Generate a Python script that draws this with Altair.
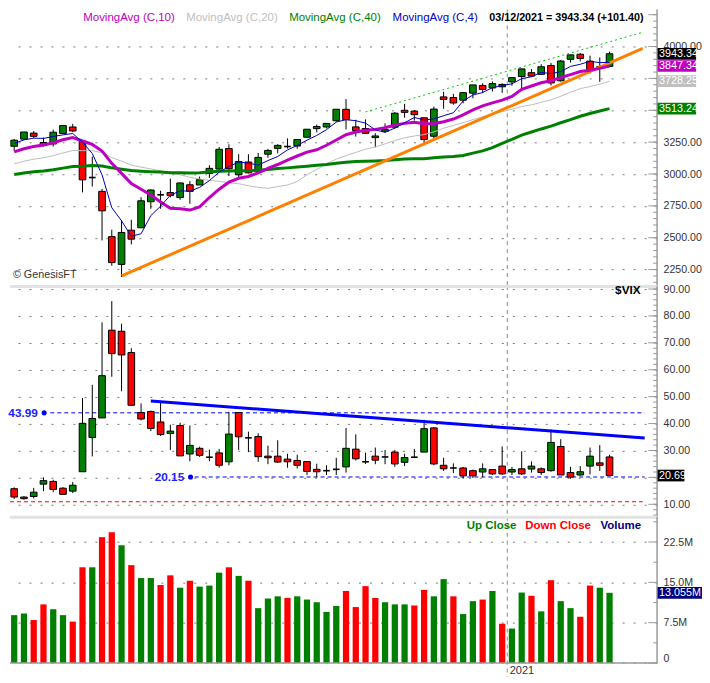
import altair as alt
import pandas as pd
import numpy as np

# ---------------- data (weekly, 01/10/2020 .. 03/12/2021) ----------------
spx_open = [3217.6, 3273.4, 3321.0, 3247.2, 3235.7, 3318.3, 3369.0, 3257.6, 2974.3, 2863.9,
            2508.6, 2290.7, 2559.0, 2578.3, 2782.5, 2845.6, 2854.7, 2815.0, 2915.5, 2913.9,
            3004.1, 3038.8, 3199.9, 2993.8, 3094.4, 3018.6, 3155.3, 3201.0, 3224.3, 3219.8,
            3288.3, 3356.0, 3368.7, 3418.1, 3507.4, 3369.8, 3356.7, 3285.6, 3335.5, 3367.3,
            3500.0, 3493.5, 3441.4, 3296.2, 3605.0, 3600.2, 3579.3, 3634.2, 3694.7, 3675.3,
            3684.3, 3723.0, 3764.6, 3795.0, 3781.9, 3851.7, 3731.2, 3899.6, 3939.6, 3885.6,
            3842.5, 3844.4]
spx_high = [3275.0, 3329.9, 3337.8, 3285.9, 3348.0, 3385.1, 3393.5, 3259.8, 3136.7, 2882.6,
            2563.0, 2637.0, 2641.4, 2818.6, 2879.2, 2869.0, 2964.2, 2934.3, 2944.3, 2980.3,
            3068.7, 3211.7, 3233.1, 3155.5, 3154.9, 3165.8, 3197.5, 3233.5, 3279.3, 3272.0,
            3352.5, 3387.9, 3399.5, 3509.4, 3588.1, 3425.6, 3428.9, 3320.3, 3397.2, 3486.3,
            3549.9, 3502.4, 3441.4, 3529.1, 3646.0, 3628.5, 3644.3, 3699.2, 3712.4, 3726.7,
            3711.2, 3760.2, 3826.7, 3823.6, 3861.5, 3870.9, 3894.6, 3937.6, 3950.4, 3928.7,
            3914.5, 3960.3]
spx_low = [3181.5, 3270.5, 3281.5, 3214.6, 3214.6, 3317.8, 3328.5, 2855.8, 2901.5, 2478.9,
           2280.5, 2191.9, 2447.5, 2575.0, 2727.1, 2727.1, 2816.8, 2797.9, 2766.6, 2913.9,
           2969.8, 3025.2, 2984.5, 2965.7, 3004.6, 2999.7, 3127.7, 3162.8, 3200.1, 3198.6,
           3284.5, 3327.2, 3357.5, 3410.4, 3349.6, 3293.6, 3313.9, 3209.5, 3323.7, 3354.3,
           3441.4, 3419.9, 3233.9, 3279.7, 3511.9, 3543.8, 3555.1, 3594.4, 3633.4, 3647.5,
           3636.5, 3692.4, 3662.7, 3764.7, 3781.9, 3694.1, 3725.6, 3874.2, 3884.1, 3789.5,
           3723.3, 3839.1]
spx_close = [3265.4, 3329.6, 3295.5, 3225.5, 3327.7, 3380.2, 3337.8, 2954.2, 2972.4, 2711.0,
             2304.9, 2541.5, 2488.7, 2789.8, 2874.6, 2836.7, 2830.7, 2929.8, 2863.7, 2955.5,
             3044.3, 3193.9, 3041.3, 3097.7, 3009.1, 3130.0, 3185.0, 3224.7, 3215.6, 3271.1,
             3351.3, 3372.9, 3397.2, 3508.0, 3427.0, 3341.0, 3319.5, 3298.5, 3348.4, 3477.1,
             3483.8, 3465.4, 3270.0, 3509.4, 3585.2, 3557.5, 3638.4, 3699.1, 3663.5, 3709.4,
             3703.1, 3756.1, 3824.7, 3768.3, 3841.5, 3714.2, 3886.8, 3934.8, 3906.7, 3811.2,
             3841.9, 3943.3]
ma4 = [3240.4, 3267.5, 3281.3, 3279.0, 3294.6, 3307.2, 3317.8, 3250.0, 3161.1, 2993.8,
       2735.6, 2632.4, 2511.5, 2531.2, 2673.6, 2747.4, 2833.0, 2868.0, 2865.2, 2894.9,
       2948.3, 3014.3, 3058.8, 3094.3, 3085.5, 3069.5, 3105.5, 3137.2, 3188.9, 3224.1,
       3265.7, 3302.7, 3348.1, 3407.3, 3426.2, 3418.3, 3398.9, 3346.5, 3326.8, 3360.9,
       3402.0, 3443.7, 3424.1, 3432.2, 3457.5, 3480.5, 3572.6, 3620.0, 3639.6, 3677.6,
       3693.8, 3708.0, 3748.3, 3763.0, 3797.6, 3787.2, 3802.7, 3844.3, 3860.7, 3884.9,
       3873.7, 3875.8]
ma10 = [3174.1, 3197.8, 3215.3, 3226.8, 3245.4, 3268.9, 3285.8, 3259.1, 3232.3, 3179.9,
        3083.9, 3005.1, 2924.4, 2880.8, 2835.5, 2781.2, 2730.4, 2728.0, 2717.1, 2741.6,
        2815.5, 2880.8, 2936.0, 2966.8, 2980.3, 3009.6, 3045.0, 3074.5, 3109.7, 3141.3,
        3172.0, 3189.9, 3225.5, 3266.5, 3308.3, 3329.4, 3342.8, 3350.2, 3363.5, 3384.1,
        3397.3, 3406.6, 3393.9, 3394.0, 3409.8, 3431.5, 3463.4, 3503.4, 3534.9, 3558.2,
        3580.1, 3609.2, 3664.6, 3690.5, 3716.1, 3731.8, 3756.7, 3780.2, 3804.6, 3814.7,
        3828.6, 3847.34]
ma20 = [3080.3, 3100.5, 3116.3, 3127.2, 3144.0, 3164.9, 3184.2, 3183.4, 3182.7, 3167.1,
        3129.0, 3101.4, 3069.8, 3053.8, 3040.5, 3025.0, 3008.1, 2993.5, 2974.7, 2960.8,
        2949.7, 2942.9, 2930.2, 2923.8, 2907.9, 2895.4, 2887.7, 2901.3, 2913.4, 2941.4,
        2993.8, 3035.3, 3080.7, 3116.7, 3144.3, 3169.5, 3193.9, 3212.4, 3236.6, 3262.7,
        3284.7, 3298.2, 3309.7, 3330.2, 3359.1, 3380.4, 3403.1, 3426.8, 3449.2, 3471.1,
        3488.7, 3507.9, 3529.2, 3542.3, 3563.0, 3581.6, 3610.0, 3641.8, 3669.7, 3686.4,
        3704.4, 3728.25]
ma40 = [2996.8, 3007.3, 3017.1, 3024.2, 3033.8, 3046.2, 3058.2, 3061.4, 3066.9, 3062.8,
        3048.3, 3038.1, 3026.7, 3021.7, 3018.3, 3014.8, 3009.9, 3009.8, 3008.4, 3010.1,
        3015.0, 3021.7, 3023.3, 3025.6, 3026.0, 3030.2, 3036.0, 3042.4, 3048.1, 3054.3,
        3061.4, 3068.4, 3075.3, 3085.2, 3092.4, 3097.3, 3101.0, 3102.9, 3105.7, 3111.7,
        3117.2, 3120.6, 3119.9, 3127.0, 3133.5, 3137.9, 3145.4, 3164.0, 3181.3, 3206.3,
        3241.2, 3271.6, 3305.0, 3329.5, 3353.6, 3375.6, 3402.0, 3427.1, 3453.2, 3474.6,
        3494.5, 3513.24]

vix_open = [15.8, 12.7, 12.9, 17.5, 18.5, 16.0, 14.9, 22.1, 34.8, 42.1,
            74.7, 74.3, 66.4, 44.1, 44.5, 40.6, 36.3, 39.3, 28.7, 30.8,
            27.8, 29.1, 25.8, 44.1, 35.0, 35.2, 27.9, 27.9, 26.8, 26.3,
            25.9, 23.0, 22.6, 23.2, 23.9, 30.5, 25.9, 27.9, 27.5, 29.4,
            25.6, 27.2, 29.4, 38.4, 24.5, 23.6, 23.5, 22.5, 22.0, 22.9,
            24.2, 22.0, 23.2, 23.1, 23.2, 22.5, 31.5, 21.8, 20.9, 24.2,
            25.4, 27.6]
vix_high = [16.3, 13.0, 16.1, 20.0, 19.1, 16.4, 18.3, 49.5, 54.4, 77.6,
            85.5, 77.1, 68.0, 47.5, 44.8, 48.0, 39.6, 40.3, 39.3, 31.4,
            30.3, 30.6, 44.4, 44.1, 37.0, 36.4, 31.8, 33.8, 28.8, 28.4,
            25.9, 25.1, 24.5, 27.3, 38.4, 36.0, 29.2, 31.1, 30.2, 30.2,
            28.8, 30.6, 41.4, 38.7, 27.3, 25.2, 23.9, 22.9, 25.2, 22.9,
            31.5, 23.9, 29.7, 25.9, 23.7, 37.8, 34.2, 23.9, 24.2, 31.1,
            32.0, 28.4]
vix_low = [12.0, 11.7, 12.2, 14.9, 14.5, 13.6, 14.2, 22.1, 27.8, 42.1,
           57.4, 52.0, 46.6, 41.2, 37.2, 35.4, 30.2, 27.9, 26.0, 27.6,
           26.0, 23.6, 24.5, 30.2, 29.4, 25.8, 24.9, 25.4, 23.6, 23.3,
           20.9, 20.1, 20.9, 20.9, 21.8, 26.3, 25.0, 24.9, 24.9, 23.9,
           24.2, 27.2, 29.4, 24.5, 22.4, 21.6, 19.5, 19.8, 20.1, 20.9,
           20.9, 20.9, 20.9, 21.8, 20.9, 22.1, 20.9, 19.5, 20.6, 21.1,
           22.4, 20.6]
vix_close = [12.7, 12.1, 14.5, 18.8, 15.5, 13.7, 17.1, 40.1, 41.9, 57.8,
             66.0, 65.5, 46.8, 41.7, 38.2, 35.9, 37.2, 28.0, 31.9, 28.2,
             27.5, 24.5, 36.1, 35.1, 34.7, 27.7, 27.3, 25.7, 25.8, 24.5,
             22.2, 22.1, 22.5, 23.0, 30.8, 26.9, 25.8, 26.4, 27.6, 25.0,
             27.4, 27.5, 38.1, 25.0, 23.2, 23.5, 20.6, 20.6, 23.2, 21.3,
             21.3, 22.9, 21.3, 24.2, 21.8, 33.0, 20.9, 20.1, 22.1, 27.9,
             24.5, 20.69]

volume_m = [8.9, 9.2, 8.0, 10.9, 10.0, 8.9, 7.7, 17.8, 17.8, 23.4,
            24.3, 21.9, 18.2, 15.8, 15.8, 14.5, 16.3, 14.0, 15.3, 14.2,
            14.4, 16.8, 17.8, 16.2, 15.3, 10.2, 12.0, 12.4, 12.1, 12.4,
            11.8, 11.3, 9.5, 10.6, 13.4, 10.4, 14.3, 12.1, 11.3, 10.9,
            10.9, 10.7, 13.6, 12.4, 15.6, 12.4, 9.1, 11.5, 11.8, 13.4,
            7.3, 6.4, 13.1, 12.5, 9.6, 15.4, 11.5, 10.2, 8.6, 14.4,
            14.0, 13.055]
volume_dir = list("UUDDUUDDUDDUDUUDDUDUUUDUDUUUDUUUUUDDDDUUUDDUUDUUDUDUUDUDUUDDUU")

# trend / reference lines (index units, values)
orange_i, orange_v = [11.0, 64.4], [2200, 3985]
greendot_i, greendot_v = [36.0, 64.4], [3487, 4112]
vixtrend_i, vixtrend_v = [14.0, 64.6], [48.4, 34.6]
vix_levels = [43.99, 20.15, 10.95]
year_split = 50.52

# ---------------- layout ----------------
SX = 694 / 710
SY = 667 / 683
W = 663 * SX
H1 = 283 * SY
H2 = 236 * SY
H3 = 150 * SY
FONT = "Liberation Sans"
GREEN = "#008000"
RED = "#ff0000"
XS = alt.Scale(domain=[-0.43, 65.87], nice=False, zero=False)
PS = alt.Scale(domain=[2125.5, 4290.7], nice=False, zero=False)
VS = alt.Scale(domain=[5.58, 91.09], nice=False, zero=False)
QS = alt.Scale(domain=[0, 27.2], nice=False, zero=False)


def px(x):
    return x * SX


def py(y, top=0):
    return (y - top) * SY


def XQ(f):
    return alt.X(f, scale=XS, axis=None)


def right_axis(values, expr, flush=False):
    return alt.Axis(orient="right", values=values, grid=True, gridDash=[2, 9],
                    gridColor="#7a7a7a", gridWidth=1, ticks=False, tickSize=0, domain=False,
                    labelPadding=6, labelFont=FONT, labelFontSize=10.6, labelColor="#333333",
                    title=None, labelFlush=flush, labelExpr=expr)


def label(txt, x, y, color, size=11.5, bold=False, align="left"):
    return alt.Chart(pd.DataFrame({"t": [txt]})).mark_text(
        align=align, baseline="middle", font=FONT, fontSize=size,
        fontWeight="bold" if bold else "normal", color=color
    ).encode(text="t:N", x=alt.value(x), y=alt.value(y))


def axis_layer(values, yscale, axis):
    # invisible layer that carries the right-hand axis and its dotted grid
    d = pd.DataFrame({"v": values})
    return alt.Chart(d).mark_point(opacity=0, size=1).encode(
        x=alt.value(W / 2), y=alt.Y("v:Q", scale=yscale, axis=axis))


def candles(o, h, l, c, yscale, thr):
    d = pd.DataFrame({"i": range(len(o)), "O": o, "H": h, "L": l, "C": c})
    d["x0"] = d["i"] - 0.34
    d["x1"] = d["i"] + 0.34
    d["lo"] = d[["O", "C"]].min(axis=1)
    d["hi"] = d[["O", "C"]].max(axis=1)
    d["col"] = np.where(d["C"] > d["O"], GREEN, RED)
    dj = (d["C"] - d["O"]).abs() < thr
    wick = alt.Chart(d).mark_rule(color="black", strokeWidth=1).encode(
        x=XQ("i:Q"), y=alt.Y("L:Q", scale=yscale, axis=None), y2="H:Q")
    body = alt.Chart(d[~dj]).mark_rect(stroke="black", strokeWidth=1).encode(
        x=XQ("x0:Q"), x2="x1:Q", y=alt.Y("lo:Q", scale=yscale, axis=None), y2="hi:Q",
        color=alt.Color("col:N", scale=None))
    doji = alt.Chart(d[dj]).mark_rule(color="black", strokeWidth=1.6).encode(
        x=XQ("x0:Q"), x2="x1:Q", y=alt.Y("C:Q", scale=yscale, axis=None))
    return [wick, body, doji]


def axis_ticks(minor, major, yscale, h):
    t = pd.DataFrame({"v": minor})
    m = pd.DataFrame({"v": major})
    one = pd.DataFrame({"a": [0]})
    line = alt.Chart(one).mark_rule(color="#9a9a9a", strokeWidth=1.5).encode(
        x=alt.value(W), y=alt.value(0), y2=alt.value(h))
    tmin = alt.Chart(t).mark_rule(color="#9a9a9a", strokeWidth=1).encode(
        x=alt.value(W - 4 * SX), x2=alt.value(W), y=alt.Y("v:Q", scale=yscale, axis=None))
    tmaj = alt.Chart(m).mark_rule(color="#9a9a9a", strokeWidth=1).encode(
        x=alt.value(W - 9 * SX), x2=alt.value(W), y=alt.Y("v:Q", scale=yscale, axis=None))
    return [line, tmin, tmaj]


def value_box(v, txt, bg, x_end, yscale, fg="white"):
    d = pd.DataFrame({"v": [v], "t": [txt]})
    box = alt.Chart(d).mark_rect(color=bg, yOffset=-6 * SY, y2Offset=6 * SY).encode(
        x=alt.value(W + 0.5), x2=alt.value(px(x_end)),
        y=alt.Y("v:Q", scale=yscale, axis=None), y2="v:Q")
    tx = alt.Chart(d).mark_text(align="left", baseline="middle", font=FONT, fontSize=10.8,
                                color=fg).encode(
        x=alt.value(px(665)), y=alt.Y("v:Q", scale=yscale, axis=None), text="t:N")
    return [box, tx]


def vsplit(h_end):
    d = pd.DataFrame({"i": [year_split]})
    return alt.Chart(d).mark_rule(color="#8c8c8c", strokeDash=[4, 4], strokeWidth=1).encode(
        x=XQ("i:Q"), y=alt.value(0), y2=alt.value(h_end))


def band():
    return alt.Chart(pd.DataFrame({"a": [0]})).mark_rule(color="#e2e2e2", strokeWidth=3).encode(
        x=alt.value(0), x2=alt.value(W), y=alt.value(0.5))


idx = list(range(62))

# ---------------- price panel ----------------
mad = pd.DataFrame({"i": idx, "ma4": ma4, "ma10": ma10, "ma20": ma20, "ma40": ma40})


def ma_line(col, color, width):
    return alt.Chart(mad).mark_line(color=color, strokeWidth=width).encode(
        x=XQ("i:Q"), y=alt.Y(f"{col}:Q", scale=PS, axis=None))


orange = alt.Chart(pd.DataFrame({"i": orange_i, "v": orange_v})).mark_line(
    color="#ff8000", strokeWidth=3).encode(x=XQ("i:Q"), y=alt.Y("v:Q", scale=PS, axis=None))
gdot = alt.Chart(pd.DataFrame({"i": greendot_i, "v": greendot_v})).mark_line(
    color="#00c800", strokeWidth=1, strokeDash=[2, 3]).encode(
    x=XQ("i:Q"), y=alt.Y("v:Q", scale=PS, axis=None))

pvals = [2250, 2500, 2750, 3000, 3250, 3500, 3750, 4000]
# labels of 3500 / 3750 sit under the last-value boxes, as in the original
p_expr = "(datum.value == 3500 || datum.value == 3750) ? '' : format(datum.value, '.2f')"
p_layers = [axis_layer(pvals, PS, right_axis(pvals, p_expr)), vsplit(H1)]
p_layers += axis_ticks(list(range(2150, 4300, 50)), list(range(2250, 4300, 250)), PS, H1)
p_layers += candles(spx_open, spx_high, spx_low, spx_close, PS, 10)
p_layers += [ma_line("ma20", "#bdbdbd", 1), ma_line("ma40", GREEN, 3), gdot, orange,
             ma_line("ma10", "#c000c0", 3), ma_line("ma4", "#0000c0", 1)]
p_layers += value_box(3943.34, "3943.34", "#000000", 703, PS)
p_layers += value_box(3847.34, "3847.34", "#c000c0", 703, PS)
p_layers += value_box(3728.25, "3728.25", "#c0c0c0", 703, PS)
p_layers += value_box(3513.24, "3513.24", GREEN, 703, PS)
ly = py(8.5)
p_layers += [
    label("MovingAvg (C,10)", px(75), ly, "#c000c0"),
    label("MovingAvg (C,20)", px(180.5), ly, "#c0c0c0"),
    label("MovingAvg (C,40)", px(286), ly, GREEN),
    label("MovingAvg (C,4)", px(392), ly, "#0000c0"),
    label("03/12/2021 = 3943.34 (+101.40)", px(491), ly, "#000000", size=10.8, bold=True),
    label("\u00a9 GenesisFT", px(3), py(272), "#333333", size=10.8),
]
price = alt.layer(*p_layers).resolve_axis(y="independent").properties(width=W, height=H1)

# ---------------- VIX panel ----------------
vvals = [10, 20, 30, 40, 50, 60, 70, 80, 90]
v_expr = "datum.value == 20 ? '' : format(datum.value, '.2f')"
hl = pd.DataFrame({"v": vix_levels, "x0": [3.7, 18.5, -0.43], "x1": [64.6, 64.6, 64.4],
                   "c": ["#0000ff", "#0000ff", RED]})
hlines = alt.Chart(hl).mark_rule(strokeDash=[4, 3], strokeWidth=1).encode(
    x=XQ("x0:Q"), x2="x1:Q", y=alt.Y("v:Q", scale=VS, axis=None), color=alt.Color("c:N", scale=None))
dots = alt.Chart(pd.DataFrame({"v": vix_levels[:2], "x": [px(35), px(185)]})).mark_circle(
    color="#0000ff", size=26, opacity=1).encode(
    x=alt.X("x:Q", scale=None, axis=None), y=alt.Y("v:Q", scale=VS, axis=None))
lvl_txt = alt.Chart(pd.DataFrame({"v": vix_levels[:2], "t": ["43.99", "20.15"],
                                  "x": [px(28.5), px(178.5)]})).mark_text(
    align="right", baseline="middle", font=FONT, fontSize=11.8, fontWeight="bold",
    color="#2020ff").encode(x=alt.X("x:Q", scale=None, axis=None),
                            y=alt.Y("v:Q", scale=VS, axis=None), text="t:N")
vtrend = alt.Chart(pd.DataFrame({"i": vixtrend_i, "v": vixtrend_v})).mark_line(
    color="#0000ff", strokeWidth=3).encode(x=XQ("i:Q"), y=alt.Y("v:Q", scale=VS, axis=None))

v_layers = [axis_layer(vvals, VS, right_axis(vvals, v_expr)), vsplit(H2), band()]
v_layers += axis_ticks(list(range(6, 92, 2)), list(range(10, 91, 10)), VS, H2)
v_layers += [hlines]
v_layers += candles(vix_open, vix_high, vix_low, vix_close, VS, 0.35)
v_layers += [vtrend, dots, lvl_txt]
v_layers += value_box(20.69, "20.69", "#000000", 691, VS)
v_layers += [label("$VIX", px(620), py(287.5, 283), "#000000", size=11.8, bold=True)]
vix = alt.layer(*v_layers).resolve_axis(y="independent").properties(width=W, height=H2)

# ---------------- volume panel ----------------
vd = pd.DataFrame({"i": idx, "vol": volume_m, "dir": volume_dir})
vd["x0"] = vd["i"] - 0.32
vd["x1"] = vd["i"] + 0.32
vd["base"] = 0.0
vd["col"] = np.where(vd["dir"] == "U", GREEN, RED)
qvals = [0, 7.5, 15, 22.5]
vol_axis = right_axis(qvals, "datum.value == 0 ? '0' : format(datum.value, '.1f') + 'M'",
                      flush=True)
bars = alt.Chart(vd).mark_rect().encode(
    x=XQ("x0:Q"), x2="x1:Q", y=alt.Y("base:Q", scale=QS, axis=None), y2="vol:Q",
    color=alt.Color("col:N", scale=None))
baseline = alt.Chart(pd.DataFrame({"a": [0]})).mark_rule(color="#9a9a9a", strokeWidth=1.5).encode(
    x=alt.value(0), x2=alt.value(W), y=alt.value(H3))
q_layers = [axis_layer(qvals, QS, vol_axis), vsplit(H3 + 14), band()]
q_layers += axis_ticks([3.75, 11.25, 18.75, 26.25], qvals, QS, H3)
q_layers += [bars, baseline]
q_layers += value_box(13.055, "13.055M", "#000080", 709, QS)
q_layers += [
    label("Up Close", px(468), py(529, 519), GREEN, size=11.5, bold=True),
    label("Down Close", px(528), py(529, 519), RED, size=11.5, bold=True),
    label("Volume", px(605), py(529, 519), "#000080", size=11.5, bold=True),
    label("2021", px(512), py(677.5, 519), "#333333", size=11),
]
volume = alt.layer(*q_layers).resolve_axis(y="independent").properties(width=W, height=H3)

chart = alt.vconcat(price, vix, volume, spacing=0, bounds="flush").properties(
    padding=0, background="white").configure_view(stroke=None)

chart.save("out.html", embed_options={"renderer": "svg", "actions": False})
